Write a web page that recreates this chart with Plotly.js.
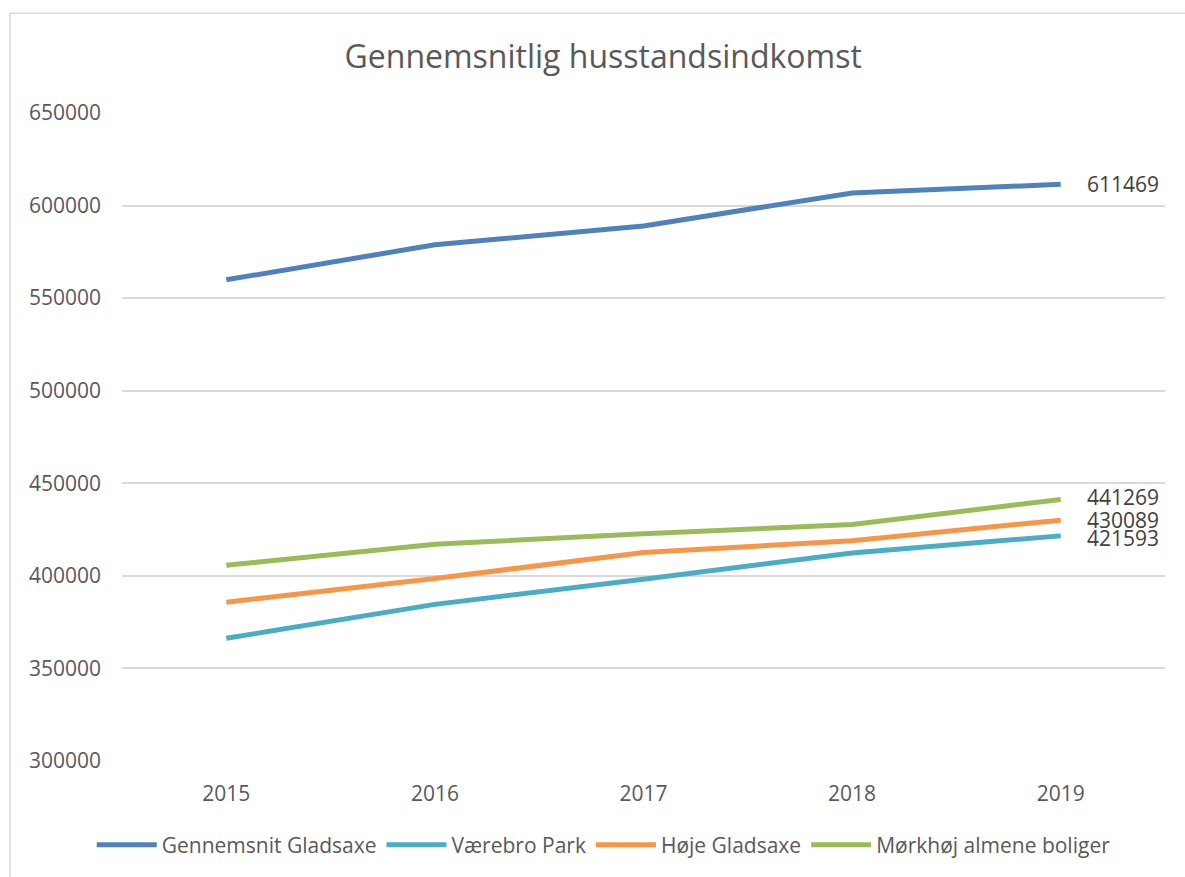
<!DOCTYPE html>
<html>
<head>
<meta charset="utf-8">
<script src="https://cdn.plot.ly/plotly-3.0.1.min.js"></script>
<style>html,body{margin:0;padding:0;background:#fff;}#chart{width:1185px;height:877px;}</style>
</head>
<body>
<div id="chart"></div>
<script>
const years = ['2015', '2016', '2017', '2018', '2019'];
const seriesNames = ['Gennemsnit Gladsaxe', 'Værebro Park', 'Høje Gladsaxe', 'Mørkhøj almene boliger'];
const gladsaxe = [559900, 578800, 589000, 606800, 611469];
const vaerebro = [366300, 384600, 398200, 412400, 421593];
const hoje = [385800, 398600, 412600, 419000, 430089];
const morkhoj = [405700, 417100, 422800, 427700, 441269];
const colors = ['#4f81bd', '#4bacc6', '#f79646', '#9bbb59'];
const labelYShift = [0, -2, 0, 2];

const allSeries = [gladsaxe, vaerebro, hoje, morkhoj];
const FONT = '"Open Sans", "Liberation Sans", sans-serif';

const traces = allSeries.map((vals, i) => ({
  type: 'scatter',
  mode: 'lines',
  name: seriesNames[i],
  x: years,
  y: vals,
  line: {color: colors[i], width: 5},
  hoverinfo: 'x+y+name'
}));

const lastIdx = years.length - 1;
const annotations = allSeries.map((vals, i) => ({
  x: lastIdx,
  y: vals[lastIdx],
  xref: 'x', yref: 'y',
  text: String(vals[lastIdx]),
  showarrow: false,
  xanchor: 'left',
  yanchor: 'middle',
  xshift: 24,
  yshift: labelYShift[i],
  font: {family: FONT, size: 21, color: '#404040'}
}));

const layout = {
  width: 1185,
  height: 877,
  margin: {l: 122, r: 20, t: 113, b: 115},
  paper_bgcolor: '#ffffff',
  plot_bgcolor: '#ffffff',
  title: {
    text: 'Gennemsnitlig husstandsindkomst',
    font: {family: FONT, size: 32, color: '#595959'},
    xref: 'container', x: 0.509, xanchor: 'center',
    yref: 'container', y: 0.935, yanchor: 'middle'
  },
  xaxis: {
    type: 'category',
    range: [-0.5, 4.5],
    showgrid: false,
    zeroline: false,
    showline: false,
    ticks: '',
    ticklabelstandoff: 18,
    tickfont: {family: FONT, size: 21, color: '#595959'}
  },
  yaxis: {
    range: [300000, 650000],
    dtick: 50000,
    tick0: 300000,
    tickformat: 'd',
    showgrid: true,
    gridcolor: '#d9d9d9',
    gridwidth: 1.5,
    zeroline: false,
    showline: false,
    ticks: '',
    ticklabelstandoff: 20,
    tickfont: {family: FONT, size: 21, color: '#595959'}
  },
  showlegend: true,
  legend: {
    orientation: 'h',
    x: -0.029, xanchor: 'left',
    y: -0.128, yanchor: 'middle',
    font: {family: FONT, size: 21, color: '#595959'},
    itemwidth: 60,
    tracegroupgap: 0
  },
  annotations: annotations,
  shapes: [
    {type: 'line', xref: 'paper', yref: 'paper', x0: -0.1074, x1: 1.05, y0: 1.154, y1: 1.154,
     line: {color: '#d9d9d9', width: 1.5}},
    {type: 'line', xref: 'paper', yref: 'paper', x0: -0.1074, x1: -0.1074, y0: 1.154, y1: -0.2,
     line: {color: '#d9d9d9', width: 1.5}}
  ]
};

Plotly.newPlot('chart', traces, layout, {displayModeBar: false, responsive: false});
</script>
</body>
</html>
